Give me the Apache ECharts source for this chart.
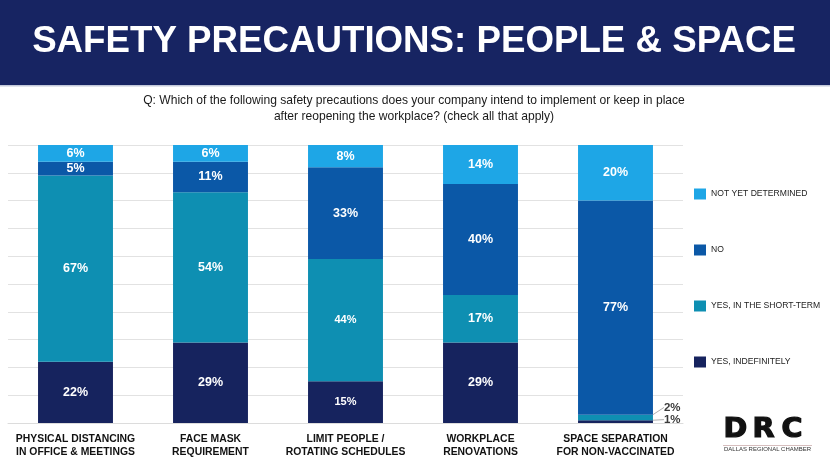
<!DOCTYPE html>
<html>
<head>
<meta charset="utf-8">
<script src="https://cdn.jsdelivr.net/npm/echarts@6/dist/echarts.min.js"></script>
<style>
  html, body { margin: 0; padding: 0; background: #ffffff; }
  #chart { width: 830px; height: 466px; }
</style>
</head>
<body>
<div id="chart"></div>
<script>
// ---- data ----
const categories = [
  'PHYSICAL DISTANCING\nIN OFFICE & MEETINGS',
  'FACE MASK\nREQUIREMENT',
  'LIMIT PEOPLE /\nROTATING SCHEDULES',
  'WORKPLACE\nRENOVATIONS',
  'SPACE SEPARATION\nFOR NON-VACCINATED'
];
const seriesNames = ['YES, INDEFINITELY', 'YES, IN THE SHORT-TERM', 'NO', 'NOT YET DETERMINED'];
const yesIndefinitely = [22, 29, 15, 29, 1];
const yesShortTerm   = [67, 54, 44, 17, 2];
const no             = [5, 11, 33, 40, 77];
const notYetDetermined = [6, 6, 8, 14, 20];
const yTicks = [0, 10, 20, 30, 40, 50, 60, 70, 80, 90, 100];

// ---- styles ----
const colors = ['#16235e', '#0e8fb2', '#0b58a7', '#1ea6e6'];
const FONT = '"Liberation Sans", Arial, sans-serif';
const values = [yesIndefinitely, yesShortTerm, no, notYetDetermined];
// labels drawn a bit smaller in the reference
const smallLabels = { '0-2': true, '1-2': true };
// labels drawn outside the bar (with leader lines): vertical shift
const outsideLabels = { '0-4': -2, '1-4': -10 };

const chart = echarts.init(document.getElementById('chart'), null, { renderer: 'canvas' });

const series = values.map((arr, si) => ({
  name: seriesNames[si],
  type: 'bar',
  stack: 'total',
  barWidth: '55.5%',
  itemStyle: { color: colors[si] },
  label: {
    show: true,
    position: 'inside',
    formatter: '{c}%',
    color: '#ffffff',
    fontFamily: FONT,
    fontWeight: 'bold',
    fontSize: 12.5
  },
  labelLine: { show: true, lineStyle: { color: '#9a9a9a', width: 0.8 } },
  labelLayout: function (p) {
    const k = si + '-' + p.dataIndex;
    if (outsideLabels[k] !== undefined) {
      return { x: p.rect.x + p.rect.width + 11, y: p.rect.y + p.rect.height / 2 + outsideLabels[k], align: 'left', verticalAlign: 'middle' };
    }
    return {};
  },
  data: arr.map((v, di) => {
    const k = si + '-' + di;
    const item = { value: v };
    if (smallLabels[k]) item.label = { fontSize: 11 };
    if (outsideLabels[k] !== undefined) item.label = { color: '#3a3a3a', fontSize: 11.5 };
    return item;
  })
}));

const logoFont = 'bold 26px "DejaVu Sans", "Liberation Sans", sans-serif';

const option = {
  animation: false,
  backgroundColor: '#ffffff',
  grid: { left: 8, right: 147, top: 145, bottom: 43, containLabel: false },
  legend: {
    orient: 'vertical',
    left: 694,
    top: 188.5,
    padding: 0,
    itemWidth: 12,
    itemHeight: 11,
    itemGap: 45,
    icon: 'rect',
    data: ['NOT YET DETERMINED', 'NO', 'YES, IN THE SHORT-TERM', 'YES, INDEFINITELY'],
    textStyle: { fontFamily: FONT, fontSize: 8.6, color: '#222222' }
  },
  xAxis: {
    type: 'category',
    data: categories,
    axisLine: { show: true, lineStyle: { color: '#dcdcdc', width: 1 } },
    axisTick: { show: false },
    axisLabel: {
      interval: 0,
      margin: 9,
      fontFamily: FONT,
      fontWeight: 'bold',
      fontSize: 10.4,
      lineHeight: 13.5,
      color: '#111111',
      align: 'center'
    }
  },
  yAxis: {
    type: 'value',
    min: yTicks[0],
    max: yTicks[yTicks.length - 1],
    interval: yTicks[1] - yTicks[0],
    axisLabel: { show: false },
    axisLine: { show: false },
    axisTick: { show: false },
    splitLine: { lineStyle: { color: '#e2e2e2', width: 1 } }
  },
  series: series,
  graphic: [
    { type: 'rect', shape: { x: 0, y: 0, width: 830, height: 85 }, style: { fill: '#172462' }, z: 100 },
    { type: 'rect', shape: { x: 0, y: 85, width: 830, height: 1.5 }, style: { fill: '#c3c9da' }, z: 100 },
    { type: 'text', x: 414, y: 42, z: 101,
      style: { text: 'SAFETY PRECAUTIONS: PEOPLE & SPACE', fill: '#ffffff', font: 'bold 36.7px "Liberation Sans", Arial, sans-serif', align: 'center', verticalAlign: 'middle' } },
    { type: 'text', x: 414, y: 100.5, scaleX: 0.93, z: 101,
      style: { text: 'Q: Which of the following safety precautions does your company intend to implement or keep in place', fill: '#1a1a1a', font: '13px "Liberation Sans", Arial, sans-serif', align: 'center', verticalAlign: 'middle' } },
    { type: 'text', x: 414, y: 116, scaleX: 0.93, z: 101,
      style: { text: 'after reopening the workplace? (check all that apply)', fill: '#1a1a1a', font: '13px "Liberation Sans", Arial, sans-serif', align: 'center', verticalAlign: 'middle' } },
    // DRC logo
    { type: 'text', x: 723.5, y: 430, scaleX: 1.1, z: 101, style: { text: 'D', fill: '#111111', stroke: '#111111', lineWidth: 1.2, font: logoFont, align: 'left', verticalAlign: 'middle' } },
    { type: 'text', x: 752.5, y: 430, scaleX: 1.1, z: 101, style: { text: 'R', fill: '#111111', stroke: '#111111', lineWidth: 1.2, font: logoFont, align: 'left', verticalAlign: 'middle' } },
    { type: 'text', x: 781.5, y: 430, scaleX: 1.1, z: 101, style: { text: 'C', fill: '#111111', stroke: '#111111', lineWidth: 1.2, font: logoFont, align: 'left', verticalAlign: 'middle' } },
    { type: 'rect', shape: { x: 723, y: 445, width: 89, height: 0.7 }, style: { fill: '#c9a9a9' }, z: 101 },
    { type: 'text', x: 767.5, y: 450, scaleX: 1.3, z: 101, style: { text: 'DALLAS REGIONAL CHAMBER', fill: '#333333', font: '4.6px "Liberation Sans", Arial, sans-serif', align: 'center', verticalAlign: 'middle' } }
  ]
};

chart.setOption(option);
</script>
</body>
</html>
